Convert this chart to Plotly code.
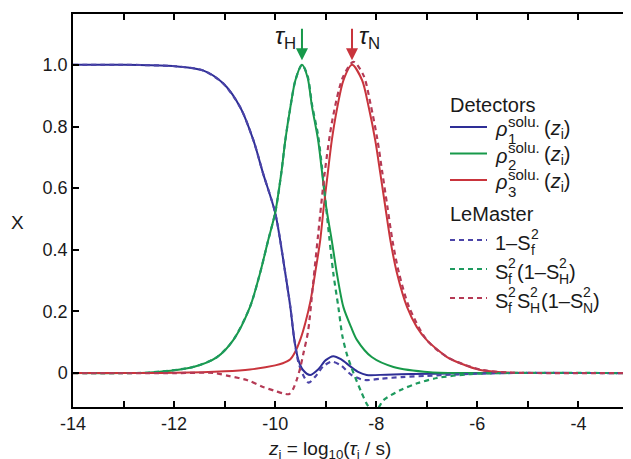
import numpy as np
import plotly.graph_objects as go

FONT = "Liberation Sans, Arial, Helvetica, sans-serif"
TXT = "#1a1a1a"

# ---------------- data ----------------
z_rho1 = [-14, -13, -12.5, -11.94, -11.43, -11.03, -10.69, -10.43, -10.24, -10.0, -9.80, -9.70,
          -9.62, -9.54, -9.45, -9.31, -9.15, -9.0, -8.85, -8.7, -8.5, -8.35, -8.19, -7.8, -7.3,
          -6.5, -5.5, -3]
rho1 = [1.0, 1.0, 0.999, 0.995, 0.982, 0.94, 0.862, 0.755, 0.648, 0.52, 0.324, 0.214,
        0.107, 0.042, 0.01, -0.006, 0.012, 0.042, 0.055, 0.045, 0.02, 0.003, -0.006, -0.005, -0.003,
        -0.001, 0.0, 0.0]

z_rho2 = [-14, -13, -12.48, -11.62, -11.15, -10.83, -10.5, -10.3, -10.14, -10.0, -9.88, -9.80,
          -9.70, -9.60, -9.47, -9.36, -9.27, -9.15, -9.07, -8.99, -8.88, -8.78, -8.65, -8.5,
          -8.38, -8.09, -7.66, -6.93, -6.0, -3]
rho2 = [0.0, 0.0, 0.002, 0.02, 0.052, 0.107, 0.214, 0.324, 0.43, 0.52, 0.648, 0.755,
        0.862, 0.95, 1.0, 0.96, 0.863, 0.755, 0.648, 0.538, 0.43, 0.324, 0.214, 0.15,
        0.107, 0.052, 0.02, 0.003, 0.0, 0.0]

z_rho3 = [-14, -12, -11.0, -10.5, -10.0, -9.85, -9.70, -9.6, -9.5, -9.4, -9.3, -9.21, -9.11,
          -9.04, -8.96, -8.88, -8.77, -8.65, -8.48, -8.28, -8.15, -8.02, -7.92, -7.82, -7.72,
          -7.59, -7.39, -7.2, -7.0, -6.6, -6.34, -5.94, -5.4, -4.5, -3]
rho3 = [0.0, 0.001, 0.006, 0.012, 0.025, 0.032, 0.045, 0.07, 0.11, 0.165, 0.235, 0.324, 0.43,
        0.538, 0.648, 0.755, 0.863, 0.95, 1.0, 0.95, 0.863, 0.755, 0.648, 0.538, 0.43,
        0.324, 0.214, 0.15, 0.107, 0.052, 0.032, 0.01, 0.002, 0.0, 0.0]

z_lm1 = [-14, -13, -12.5, -11.94, -11.43, -11.03, -10.69, -10.43, -10.24, -10.0, -9.80, -9.70,
         -9.62, -9.54, -9.45, -9.34, -9.2, -9.05, -8.88, -8.7, -8.5, -8.3, -8.19, -7.9, -7.5,
         -7.0, -6.5, -6.0, -5.5, -3]
lm1 = [1.0, 1.0, 0.999, 0.995, 0.982, 0.94, 0.862, 0.755, 0.648, 0.52, 0.324, 0.214,
       0.107, 0.035, -0.005, -0.031, -0.01, 0.022, 0.037, 0.025, -0.005, -0.02, -0.023, -0.018, -0.013,
       -0.009, -0.005, -0.002, 0.0, 0.0]

z_lm2 = [-14, -13, -12.48, -11.62, -11.15, -10.83, -10.5, -10.3, -10.14, -10.0, -9.88, -9.80,
         -9.70, -9.60, -9.47, -9.36, -9.27, -9.15, -9.07, -9.0, -8.93, -8.85, -8.75, -8.67,
         -8.58, -8.45, -8.3, -8.17, -8.07, -7.95, -7.86, -7.52, -7.19, -6.8, -6.2, -5.5, -3]
lm2 = [0.0, 0.0, 0.002, 0.02, 0.052, 0.107, 0.214, 0.324, 0.43, 0.52, 0.648, 0.755,
       0.862, 0.95, 1.0, 0.965, 0.87, 0.77, 0.66, 0.55, 0.44, 0.324, 0.214, 0.12,
       0.06, 0.0, -0.06, -0.105, -0.122, -0.11, -0.088, -0.055, -0.033, -0.016, -0.004, 0.0, 0.0]

z_lm3 = [-14, -12, -11.2, -10.9, -10.55, -10.24, -10.0, -9.84, -9.72, -9.64, -9.57, -9.5, -9.44,
         -9.35, -9.25, -9.15, -9.02, -8.87, -8.66, -8.45, -8.25, -8.11, -7.98, -7.88, -7.78,
         -7.68, -7.55, -7.35, -7.0, -6.6, -6.3, -5.9, -5.4, -4.5, -3]
lm3 = [0.0, 0.0, 0.0, -0.01, -0.023, -0.045, -0.058, -0.066, -0.068, -0.05, -0.02, 0.02, 0.065,
       0.135, 0.29, 0.45, 0.65, 0.82, 0.96, 1.01, 0.965, 0.87, 0.76, 0.65, 0.54,
       0.43, 0.324, 0.214, 0.107, 0.052, 0.03, 0.01, 0.002, 0.0, 0.0]

x_tickvals = list(range(-14, -3))
x_ticktext = [str(v) if v % 2 == 0 else "" for v in x_tickvals]
y_tickvals = [0, 0.2, 0.4, 0.6, 0.8, 1.0]
y_ticktext = ["0", "0.2", "0.4", "0.6", "0.8", "1.0"]

C_B, C_G, C_R = "#2e2e96", "#17994a", "#c9343c"
D_B, D_G, D_R = "#4b44a8", "#1e9a5e", "#b53a55"

# ---------------- figure ----------------
fig = go.Figure()
series = [
    (z_rho1, rho1, C_B, "solid", 2.0),
    (z_rho2, rho2, C_G, "solid", 2.0),
    (z_rho3, rho3, C_R, "solid", 2.0),
    (z_lm1, lm1, D_B, "5px,4px", 2.2),
    (z_lm2, lm2, D_G, "5px,4px", 2.2),
    (z_lm3, lm3, D_R, "5px,4px", 2.2),
]
for zz, vv, col, dash, w in series:
    fig.add_trace(go.Scatter(x=zz, y=vv, mode="lines",
                             line=dict(color=col, width=w, dash=dash, shape="spline", smoothing=0.8),
                             showlegend=False, hoverinfo="skip"))

# page has an 8px body margin: figure is shifted by (8, 8) on screen
OFF = 8
W, H = 631 - OFF, 459 - OFF
PL, PR, PT, PB = 73, 629, 14, 407          # plot box in screen pixels
L, R, T, B = PL - OFF, (W + OFF) - PR, PT - OFF, (H + OFF) - PB


def P(px, py):
    return (px - PL) / (PR - PL), (PB - py) / (PB - PT)


def txt(text, px, py, size=20, anchor="left"):
    x, y = P(px, py)
    fig.add_annotation(text=text, xref="paper", yref="paper", x=x, y=y, xanchor=anchor,
                       yanchor="middle", showarrow=False, borderpad=0,
                       font=dict(size=size, family=FONT, color=TXT))


def sample(py, col, dash):
    x0, y = P(450, py)
    x1, _ = P(487, py)
    fig.add_shape(type="line", xref="paper", yref="paper", x0=x0, x1=x1, y0=y, y1=y,
                  line=dict(color=col, width=2, dash=dash))


EM = {"1": .556, "2": .556, "3": .556, "–": .556, "S": .667, "(": .333, ")": .333,
      "f": .278, "H": .722, "N": .722, "s": .5, "o": .556, "l": .222, "u": .556, ".": .278}


def wid(s):
    return sum(EM.get(c, .55) for c in s)


def run(items, px, py, main=20, small=14, up=9, down=7, gap=0.5):
    """items: plain strings, (html, em_width) tuples, or ('stack', sup, sub)."""
    for it in items:
        if isinstance(it, tuple) and it[0] == "stack":
            _, sup, sub = it
            txt(sup, px, py - up, size=small)
            txt(sub, px, py + down, size=small)
            px += max(wid(sup), wid(sub)) * small + gap
        elif isinstance(it, tuple):
            txt(it[0], px, py, size=main)
            px += it[1] * main
        else:
            txt(it, px, py, size=main)
            px += wid(it) * main


# legend: detectors
txt("Detectors", 449, 105)
for i, (col, num) in enumerate([(C_B, "1"), (C_G, "2"), (C_R, "3")]):
    ly = 127 + 26.5 * i
    sample(ly, col, "solid")
    run([("<i>ρ</i>", 0.66), ("stack", "solu.", num), ("(<i>z</i><sub>i</sub>)", 1.4)],
        494, ly + 2, small=15, up=8, down=9, gap=4)

# legend: LeMaster
txt("LeMaster", 449, 214)
for ly, col in [(240, D_B), (269, D_G), (298, D_R)]:
    sample(ly, col, "5px,4px")
run(["1–S", ("stack", "2", "f")], 494, 243)
run(["S", ("stack", "2", "f"), "(1–S", ("stack", "2", "H"), ")"], 494, 272)
run(["S", ("stack", "2", "f"), "S", ("stack", "2", "H"), "(1–S", ("stack", "2", "N"), ")"], 494, 301)

# axis titles
txt("X", 17, 222, size=19, anchor="center")
txt("<i>z</i><sub>i</sub> = log<sub>10</sub>(<i>τ</i><sub>i</sub> / s)", 329, 450, size=19,
    anchor="center")

# arrows at peak positions
zH = z_rho2[int(np.argmax(rho2))]
zN = z_rho3[int(np.argmax(rho3))]
for zp, col, lab, xa, xs in [(zH, C_G, "<i>τ</i><sub>H</sub>", "right", -4),
                              (zN, C_R, "<i>τ</i><sub>N</sub>", "left", 5)]:
    fig.add_annotation(x=zp, y=1.015, xref="x", yref="y", ax=0, ay=-33, showarrow=True,
                       arrowhead=2, arrowsize=1.2, arrowwidth=2, arrowcolor=col, text="")
    fig.add_annotation(x=zp, y=1.09, xref="x", yref="y", text=lab, showarrow=False,
                       xanchor=xa, yanchor="middle", xshift=xs,
                       font=dict(size=24, family=FONT, color=TXT))

axis_common = dict(showline=True, linecolor="black", linewidth=1.5, mirror="ticks",
                   ticks="inside", ticklen=6, tickwidth=1.5, tickcolor="black",
                   showgrid=False, zeroline=False,
                   tickfont=dict(size=18, family=FONT, color=TXT))
fig.update_layout(
    width=W, height=H, margin=dict(l=L, r=R, t=T, b=B, autoexpand=False),
    paper_bgcolor="white", plot_bgcolor="white", showlegend=False,
    xaxis=dict(range=[-14, -3], tickmode="array", tickvals=x_tickvals, ticktext=x_ticktext,
               **axis_common),
    yaxis=dict(range=[-0.11, 1.165], tickmode="array", tickvals=y_tickvals, ticktext=y_ticktext,
               **axis_common),
)

fig.write_html("out.html")
